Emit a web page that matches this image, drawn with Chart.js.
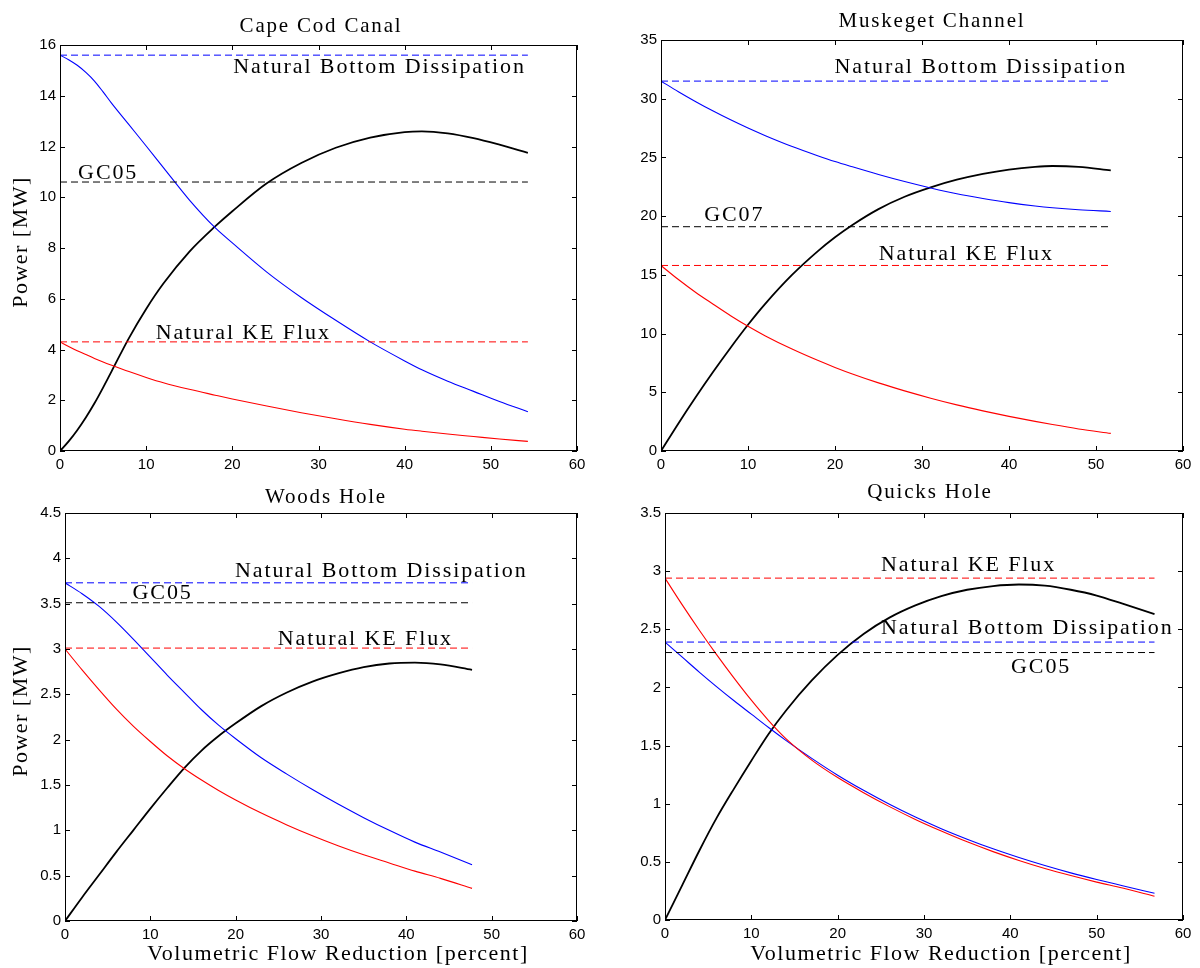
<!DOCTYPE html>
<html>
<head>
<meta charset="utf-8">
<script src="https://cdn.jsdelivr.net/npm/chart.js@4.4.1/dist/chart.umd.min.js"></script>
<style>
  body { margin: 0; background: #fff; }
  canvas { position: absolute; left: 0; top: 0; }
</style>
</head>
<body>
<canvas id="c0" width="1200" height="968"></canvas>
<canvas id="c1" width="1200" height="968"></canvas>
<canvas id="c2" width="1200" height="968"></canvas>
<canvas id="c3" width="1200" height="968"></canvas>
<script>
// ---- data (power in MW vs. flow reduction in percent) ----

// Cape Cod Canal
const capeX         = [0, 1, 2, 3, 4, 5, 6, 8, 10, 12, 15, 18, 20, 24, 28, 32, 36, 40, 42, 45, 48, 51, 54.3];
const capeExtracted = [0, 0.38, 0.82, 1.32, 1.88, 2.5, 3.15, 4.45, 5.6, 6.6, 7.85, 8.85, 9.45, 10.55, 11.35, 11.95, 12.35, 12.57, 12.6, 12.52, 12.33, 12.07, 11.75];
const capeBottom    = [15.6, 15.42, 15.2, 14.92, 14.58, 14.15, 13.7, 12.86, 12.02, 11.17, 9.9, 8.8, 8.2, 7.05, 6.05, 5.15, 4.3, 3.55, 3.2, 2.75, 2.35, 1.95, 1.55];
const capeKE        = [4.3, 4.12, 3.95, 3.8, 3.65, 3.51, 3.38, 3.13, 2.9, 2.69, 2.43, 2.2, 2.05, 1.77, 1.51, 1.27, 1.05, 0.86, 0.78, 0.67, 0.57, 0.47, 0.38];
const capeLevels    = [15.6, 10.6, 4.3];   // natural bottom dissipation, GC05, natural KE flux

// Muskeget Channel
const muskX         = [0, 2, 4, 6, 8, 10, 12, 15, 18, 20, 22, 25, 28, 31, 34, 37, 40, 43, 45, 48, 51.7];
const muskExtracted = [0, 2.35, 4.6, 6.75, 8.8, 10.75, 12.55, 14.95, 17.0, 18.2, 19.25, 20.6, 21.65, 22.45, 23.1, 23.6, 23.97, 24.2, 24.27, 24.2, 23.9];
const muskBottom    = [31.5, 30.6, 29.75, 28.95, 28.2, 27.5, 26.85, 25.95, 25.15, 24.65, 24.2, 23.55, 22.95, 22.4, 21.9, 21.5, 21.15, 20.87, 20.72, 20.55, 20.4];
const muskKE        = [15.8, 14.6, 13.5, 12.5, 11.52, 10.62, 9.8, 8.7, 7.72, 7.12, 6.56, 5.8, 5.12, 4.5, 3.93, 3.42, 2.95, 2.52, 2.25, 1.88, 1.5];
const muskLevels    = [31.5, 19.1, 15.8];  // natural bottom dissipation, GC07, natural KE flux

// Woods Hole
const woodsX         = [0, 2, 4, 6, 8, 10, 12, 14, 16, 18, 20, 23, 26, 29, 32, 35, 38, 41, 44, 47.7];
const woodsExtracted = [0, 0.26, 0.51, 0.76, 1.0, 1.24, 1.47, 1.69, 1.88, 2.04, 2.18, 2.37, 2.52, 2.64, 2.73, 2.8, 2.84, 2.85, 2.83, 2.77];
const woodsBottom    = [3.73, 3.61, 3.47, 3.3, 3.11, 2.91, 2.71, 2.52, 2.33, 2.16, 2.01, 1.8, 1.62, 1.45, 1.29, 1.14, 1.0, 0.87, 0.76, 0.62];
const woodsKE        = [3.0, 2.77, 2.55, 2.34, 2.15, 1.98, 1.82, 1.68, 1.555, 1.44, 1.335, 1.19, 1.06, 0.94, 0.83, 0.73, 0.64, 0.55, 0.47, 0.36];
const woodsLevels    = [3.73, 3.51, 3.01]; // natural bottom dissipation, GC05, natural KE flux

// Quicks Hole
const quicksX         = [0, 2, 4, 6, 8, 10, 12, 14, 17, 20, 23, 26, 29, 32, 35, 38, 41, 44, 47, 50, 53, 56.7];
const quicksExtracted = [0, 0.3, 0.6, 0.88, 1.13, 1.37, 1.6, 1.8, 2.06, 2.28, 2.46, 2.6, 2.705, 2.785, 2.84, 2.872, 2.885, 2.875, 2.84, 2.79, 2.72, 2.63];
const quicksBottom    = [2.39, 2.26, 2.13, 2.005, 1.885, 1.77, 1.655, 1.545, 1.39, 1.245, 1.115, 0.995, 0.885, 0.785, 0.695, 0.612, 0.537, 0.468, 0.405, 0.348, 0.295, 0.23];
const quicksKE        = [2.94, 2.71, 2.49, 2.28, 2.08, 1.89, 1.715, 1.56, 1.375, 1.225, 1.095, 0.975, 0.865, 0.765, 0.672, 0.588, 0.512, 0.443, 0.382, 0.326, 0.275, 0.205];
const quicksLevels    = [2.39, 2.30, 2.94]; // natural bottom dissipation, GC05, natural KE flux

const xTicks = [0, 10, 20, 30, 40, 50, 60];

// ---- layout of the four panels (page pixels) ----
const panels = [
  { id: 'c0', title: 'Cape Cod Canal', xs: capeX, ext: capeExtracted, bot: capeBottom, ke: capeKE, levels: capeLevels,
    yMax: 16, yStep: 2, box: [60, 45, 577, 451], titleAt: [321, 32], yLabel: true, xLabel: false,
    notes: [['Natural Bottom Dissipation', 20.1, 15.22], ['GC05', 2.1, 11.04], ['Natural KE Flux', 11.1, 4.74]] },
  { id: 'c1', title: 'Muskeget Channel', xs: muskX, ext: muskExtracted, bot: muskBottom, ke: muskKE, levels: muskLevels,
    yMax: 35, yStep: 5, box: [661, 40, 1183, 451], titleAt: [932, 27], yLabel: false, xLabel: false,
    notes: [['Natural Bottom Dissipation', 19.95, 32.89], ['GC07', 4.97, 20.24], ['Natural KE Flux', 25.03, 16.96]] },
  { id: 'c2', title: 'Woods Hole', xs: woodsX, ext: woodsExtracted, bot: woodsBottom, ke: woodsKE, levels: woodsLevels,
    yMax: 4.5, yStep: 0.5, box: [65, 513, 577, 921], titleAt: [326, 503], yLabel: true, xLabel: true,
    notes: [['Natural Bottom Dissipation', 19.92, 3.88], ['GC05', 7.92, 3.64], ['Natural KE Flux', 24.94, 3.13]] },
  { id: 'c3', title: 'Quicks Hole', xs: quicksX, ext: quicksExtracted, bot: quicksBottom, ke: quicksKE, levels: quicksLevels,
    yMax: 3.5, yStep: 0.5, box: [665, 513, 1183, 920], titleAt: [930, 498], yLabel: false, xLabel: true,
    notes: [['Natural KE Flux', 25.02, 3.07], ['Natural Bottom Dissipation', 25.02, 2.53], ['GC05', 40.08, 2.19]] }
];

const serif = '"Liberation Serif", "Times New Roman", serif';
const sans = '"Liberation Sans", Arial, sans-serif';
const levelColors = ['#0000ff', '#000000', '#ff0000'];

function curve(xs, ys, color, width) {
  return {
    data: xs.map((x, i) => ({ x: x, y: ys[i] })),
    showLine: true, borderColor: color, borderWidth: width,
    pointRadius: 0, cubicInterpolationMode: 'monotone', fill: false
  };
}

function level(xEnd, y, color) {
  return {
    data: [{ x: 0, y: y }, { x: xEnd, y: y }],
    showLine: true, borderColor: color, borderWidth: 1, borderDash: [7, 4],
    pointRadius: 0, fill: false
  };
}

function spaced(ctx, px) {
  if ('letterSpacing' in ctx) ctx.letterSpacing = px + 'px';
}

// frame, inward ticks and all the serif texts
const framePlugin = {
  id: 'frame',
  afterDraw(chart, args, opts) {
    const p = opts.panel;
    const a = chart.chartArea;
    const sx = chart.scales.x, sy = chart.scales.y;
    const ctx = chart.ctx;
    ctx.save();
    ctx.strokeStyle = '#000';
    ctx.lineWidth = 1;
    ctx.strokeRect(a.left + 0.5, a.top + 0.5, a.right - a.left - 1, a.bottom - a.top - 1);
    ctx.beginPath();
    sx.ticks.forEach(t => {
      const px = Math.round(sx.getPixelForValue(t.value)) + 0.5;
      ctx.moveTo(px, a.bottom); ctx.lineTo(px, a.bottom - 5);
      ctx.moveTo(px, a.top); ctx.lineTo(px, a.top + 5);
    });
    sy.ticks.forEach(t => {
      const py = Math.round(sy.getPixelForValue(t.value)) + 0.5;
      ctx.moveTo(a.left, py); ctx.lineTo(a.left + 5, py);
      ctx.moveTo(a.right, py); ctx.lineTo(a.right - 5, py);
    });
    ctx.stroke();

    ctx.fillStyle = '#000';
    // title
    ctx.font = '21px ' + serif;
    spaced(ctx, 1.8);
    ctx.textAlign = 'center';
    ctx.textBaseline = 'alphabetic';
    ctx.fillText(p.title, p.titleAt[0], p.titleAt[1]);

    // annotations on the dashed levels
    ctx.font = '22px ' + serif;
    spaced(ctx, 1.9);
    ctx.textAlign = 'left';
    ctx.textBaseline = 'middle';
    p.notes.forEach(n => {
      ctx.fillText(n[0], sx.getPixelForValue(n[1]), sy.getPixelForValue(n[2]) + 2);
    });

    // axis titles
    spaced(ctx, 1.5);
    if (p.xLabel) {
      ctx.textAlign = 'center';
      ctx.fillText('Volumetric Flow Reduction [percent]', (a.left + a.right) / 2 + 17, 954);
    }
    if (p.yLabel) {
      ctx.translate(21, (a.top + a.bottom) / 2 - 6);
      ctx.rotate(-Math.PI / 2);
      ctx.textAlign = 'center';
      ctx.fillText('Power [MW]', 0, 0);
    }
    ctx.restore();
  }
};

panels.forEach(p => {
  const xEnd = p.xs[p.xs.length - 1];
  const [l, t, r, b] = p.box;
  new Chart(document.getElementById(p.id), {
    type: 'scatter',
    data: {
      datasets: [
        level(xEnd, p.levels[0], levelColors[0]),
        level(xEnd, p.levels[1], levelColors[1]),
        level(xEnd, p.levels[2], levelColors[2]),
        curve(p.xs, p.ke, '#ff0000', 1.1),
        curve(p.xs, p.bot, '#0000ff', 1.1),
        curve(p.xs, p.ext, '#000000', 1.8)
      ]
    },
    options: {
      responsive: false,
      animation: false,
      events: [],
      layout: { padding: { left: l - 50, top: t, right: 1200 - r, bottom: 968 - b - 30 } },
      plugins: {
        legend: { display: false },
        tooltip: { enabled: false },
        frame: { panel: p }
      },
      scales: {
        x: {
          type: 'linear', min: 0, max: 60,
          afterBuildTicks: s => { s.ticks = xTicks.map(v => ({ value: v })); },
          grid: { display: false, drawTicks: false },
          border: { display: false },
          ticks: { color: '#000', font: { family: sans, size: 15 }, padding: 5, maxRotation: 0 },
          afterFit: s => { s.height = 30; }
        },
        y: {
          type: 'linear', min: 0, max: p.yMax,
          grid: { display: false, drawTicks: false },
          border: { display: false },
          ticks: {
            stepSize: p.yStep, color: '#000', font: { family: sans, size: 15 }, padding: 4,
            callback: v => String(Math.round(v * 100) / 100)
          },
          afterFit: s => { s.width = 50; }
        }
      }
    },
    plugins: [framePlugin]
  });
});
</script>
</body>
</html>
